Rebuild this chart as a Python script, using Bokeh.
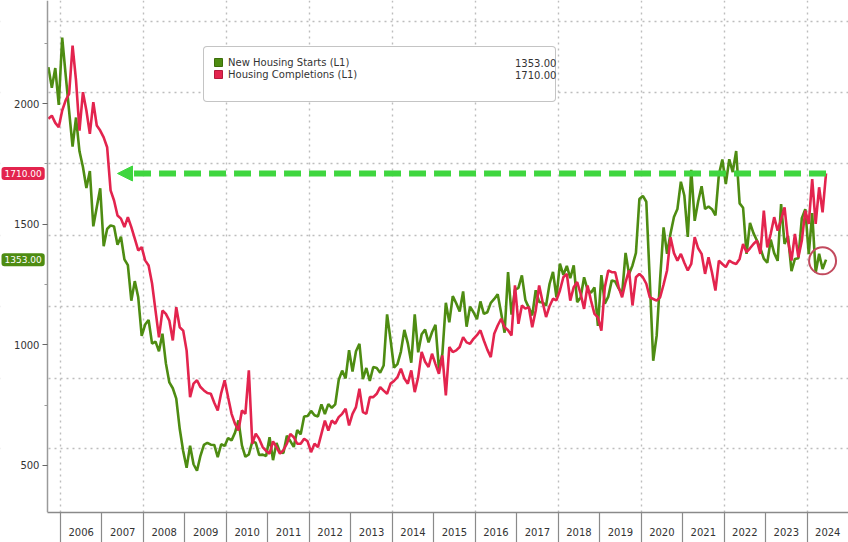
from bokeh.plotting import figure
from bokeh.models import (Range1d, FixedTicker, CustomJSTickFormatter, Grid, Legend,
                          LegendItem, Label, Arrow, NormalHead, BoxAnnotation)
from bokeh.embed import file_html
from bokeh.resources import INLINE

# ---------------- data ----------------
start_year, start_month = 2005, 9   # first monthly observation: Sep 2005

starts = [
    2151, 2065, 2147, 1994,
    2273, 2119, 1969, 1821, 1942, 1802, 1737, 1650, 1720, 1491, 1570, 1649,
    1409, 1480, 1495, 1490, 1415, 1448, 1354, 1330, 1183, 1264, 1197, 1037,
    1084, 1103, 1005, 1013, 973, 1046, 923, 844, 820, 777, 652, 560,
    490, 582, 505, 478, 540, 585, 594, 586, 585, 534, 588, 581,
    614, 604, 636, 687, 583, 536, 546, 599, 594, 543, 545, 539,
    617, 522, 593, 555, 552, 623, 601, 577, 647, 629, 703, 705,
    726, 708, 703, 753, 713, 754, 739, 753, 854, 893, 861, 978,
    889, 973, 1004, 858, 904, 850, 908, 904, 884, 914, 1126, 1021,
    906, 920, 972, 1062, 1006, 926, 1126, 969, 1044, 1063, 1010, 1052,
    1083, 899, 963, 1174, 1093, 1202, 1172, 1138, 1221, 1075, 1158, 1135,
    1106, 1180, 1128, 1135, 1174, 1190, 1210, 1132, 1050, 1301, 1125, 1228,
    1236, 1288, 1186, 1154, 1122, 1226, 1178, 1176, 1163, 1252, 1302, 1197,
    1336, 1290, 1327, 1276, 1329, 1177, 1196, 1280, 1228, 1216, 1238, 1078,
    1289, 1171, 1200, 1267, 1262, 1234, 1211, 1381, 1293, 1329, 1381, 1604,
    1617, 1593, 1269, 934, 1038, 1273, 1487, 1377, 1460, 1530, 1563, 1676,
    1619, 1447, 1725, 1514, 1594, 1657, 1563, 1573, 1562, 1536, 1706, 1768,
    1666, 1769, 1716, 1803, 1586, 1568, 1377, 1505, 1463, 1432, 1401, 1357,
    1340, 1436, 1380, 1348, 1583, 1418, 1451, 1305, 1356, 1359, 1525, 1562,
    1376, 1546, 1299, 1377, 1314, 1353,
]

completions = [
    1937, 1950, 1920, 1902,
    1971, 2013, 2040, 2240, 2096, 1888, 2047, 1971, 1874, 2006, 1909, 1888,
    1860, 1819, 1640, 1598, 1536, 1523, 1488, 1529, 1488, 1440, 1391, 1405,
    1350, 1329, 1254, 1142, 1031, 1142, 1128, 1100, 1018, 1156, 1073, 1059,
    976, 783, 839, 853, 825, 811, 800, 797, 760, 728, 800, 853,
    783, 714, 673, 645, 728, 714, 894, 590, 632, 610, 576, 560,
    549, 600, 576, 549, 563, 590, 631, 617, 590, 590, 611, 600,
    555, 590, 576, 631, 686, 645, 686, 673, 700, 714, 735, 666,
    714, 742, 818, 721, 714, 783, 783, 797, 825, 810, 797, 839,
    850, 866, 901, 860, 839, 894, 804, 866, 970, 930, 908, 963,
    920, 880, 956, 790, 991, 970, 977, 991, 1032, 1010, 1004, 1025,
    1040, 1060, 1018, 980, 949, 1046, 1080, 1108, 1073, 1060, 1039, 1246,
    1087, 1163, 1150, 1156, 1073, 1142, 1246, 1177, 1115, 1160, 1191, 1184,
    1225, 1280, 1294, 1183, 1239, 1260, 1211, 1149, 1246, 1183, 1128, 1114,
    1059, 1239, 1308, 1301, 1301, 1239, 1197, 1260, 1308, 1163, 1280, 1294,
    1280, 1253, 1197, 1190, 1183, 1197, 1250, 1308, 1446, 1380, 1349, 1377,
    1340, 1308, 1335, 1446, 1400, 1377, 1294, 1363, 1300, 1225, 1349, 1335,
    1322, 1349, 1340, 1335, 1356, 1418, 1384, 1400, 1418, 1432, 1377, 1556,
    1404, 1460, 1529, 1473, 1520, 1570, 1432, 1349, 1460, 1363, 1432, 1556,
    1501, 1687, 1501, 1653, 1549, 1710,
]

series_names = ["New Housing Starts (L1)", "Housing Completions (L1)"]
years = list(range(2006, 2025))
y_major = [500, 1000, 1500, 2000]
y_minor = [250, 750, 1250, 1750, 2250]
h_grid = [570, 860, 1160, 1455, 1750, 2045, 2340]
v_grid = list(range(2006, 2025, 2))

# ---------------- styling ----------------
GREEN = "#4e8c12"
GREEN_DARK = "#3b6e0a"
RED = "#e3244e"
RED_DARK = "#b51a3c"
ARROW_GREEN = "#3fd63f"
CIRCLE = "#c24a5e"
FONT = "DejaVu Sans"
TXT = "#333333"
NAN = float("nan")

AXIS_X = 2005.687          # where the value axis sits
X0, X1 = 2004.554, 2025.0  # visible x window (frame spans whole width)
Y0, Y1 = 305, 2427

dates = [start_year + (start_month - 1 + i + 0.5) / 12 for i in range(len(starts))]

p = figure(width=848, height=542,
           x_range=Range1d(X0, X1), y_range=Range1d(Y0, Y1),
           output_backend="svg", toolbar_location=None,
           min_border_left=0, min_border_right=0, min_border_top=0, min_border_bottom=30,
           outline_line_color=None, background_fill_color="white",
           border_fill_color="white")

p.xgrid.visible = False
p.ygrid.visible = False

gx = Grid(dimension=0, ticker=FixedTicker(ticks=v_grid),
          grid_line_color="#bdbdbd", grid_line_dash="2 4", grid_line_width=1.4)
gy = Grid(dimension=1, ticker=FixedTicker(ticks=h_grid),
          grid_line_color="#bdbdbd", grid_line_dash="2 4", grid_line_width=1.4)
p.add_layout(gx)
p.add_layout(gy)
# blank out grid left of the value axis
p.add_layout(BoxAnnotation(right=AXIS_X, fill_color="white", fill_alpha=1.0,
                           line_alpha=0, level="underlay"))

# x axis: year separators as minor ticks, labels centred in each year
xa = p.xaxis[0]
xa.ticker = FixedTicker(ticks=[y + 0.5 for y in years], minor_ticks=years)
xa.formatter = CustomJSTickFormatter(code="return Math.floor(tick).toString();")
xa.bounds = (AXIS_X, X1)
xa.major_tick_out = 0
xa.major_tick_in = 0
xa.minor_tick_out = 30
xa.minor_tick_in = 0
xa.minor_tick_line_color = "#8a8a8a"
xa.minor_tick_line_width = 1.2
xa.axis_line_color = "#8a8a8a"
xa.axis_line_width = 1.5
xa.major_label_standoff = -15
xa.major_label_text_font = FONT
xa.major_label_text_font_size = "10px"
xa.major_label_text_color = TXT

ya = p.yaxis[0]
ya.fixed_location = AXIS_X
ya.ticker = FixedTicker(ticks=y_major, minor_ticks=y_minor)
ya.major_tick_out = 5
ya.major_tick_in = 0
ya.minor_tick_out = 3
ya.minor_tick_in = 0
ya.major_tick_line_color = "#666666"
ya.minor_tick_line_color = "#999999"
ya.axis_line_color = "#9a9a9a"
ya.axis_line_width = 1.5
ya.major_label_standoff = 3
ya.major_label_text_font = FONT
ya.major_label_text_font_size = "10px"
ya.major_label_text_color = TXT

# series
p.line(dates, starts, line_color=GREEN, line_width=2.6)
p.line(dates, completions, line_color=RED, line_width=2.6)

# dashed arrow from the latest completions value back to where it was last reached
last_c = completions[-1]
peak_i = completions.index(max(completions))
cross_i = next(i for i in range(peak_i, len(completions)) if completions[i] < last_c)
p.add_layout(Arrow(end=NormalHead(size=15, fill_color=ARROW_GREEN, line_color=ARROW_GREEN),
                   x_start=dates[-1], y_start=last_c,
                   x_end=dates[cross_i] + 2 / 12, y_end=last_c,
                   line_color=ARROW_GREEN, line_width=6, line_dash="17 8"))

# circle around the latest housing-starts readings
n_last = 3
cx = sum(dates[-n_last:]) / n_last
cy = sum(starts[-n_last:]) / n_last
p.scatter([cx], [cy], marker="circle", size=27, fill_color=None,
          line_color=CIRCLE, line_width=2)

# legend with square swatches
sw_s = p.quad(left=[NAN], right=[NAN], top=[NAN], bottom=[NAN],
              fill_color=GREEN, line_color=GREEN_DARK)
sw_c = p.quad(left=[NAN], right=[NAN], top=[NAN], bottom=[NAN],
              fill_color=RED, line_color=RED_DARK)
sw_b = p.quad(left=[NAN], right=[NAN], top=[NAN], bottom=[NAN],
              fill_alpha=0, line_alpha=0)

common = dict(margin=0, padding=9, spacing=0, label_height=12,
              label_text_font=FONT, label_text_font_size="10px", label_text_color=TXT)

legend = Legend(items=[LegendItem(label=series_names[0], renderers=[sw_s]),
                       LegendItem(label=series_names[1], renderers=[sw_c]),
                       LegendItem(label=" ", renderers=[sw_b])],
                location=(203, 410), glyph_width=10, glyph_height=10,
                label_width=318, label_standoff=5,
                border_line_color="#8a8a8a", border_line_width=1.5,
                background_fill_color="white", background_fill_alpha=1.0,
                **common)
if "border_radius" in Legend.properties():
    legend.border_radius = 4
p.add_layout(legend)

# latest values, right-hand column of the legend box
values_legend = Legend(items=[LegendItem(label=f"{starts[-1]:.2f}", renderers=[sw_b]),
                              LegendItem(label=f"{completions[-1]:.2f}", renderers=[sw_b]),
                              LegendItem(label=" ", renderers=[sw_b])],
                       location=(505, 410), glyph_width=1, glyph_height=10,
                       label_standoff=0, border_line_alpha=0,
                       background_fill_alpha=0, **common)
p.add_layout(values_legend)

# value tags on the left of the value axis
label_props = Label.properties()
for val, col in [(completions[-1], RED), (starts[-1], GREEN)]:
    lb = Label(x=1, x_units="screen", y=val, y_units="data", text=f"{val:.2f}",
               text_align="left", text_baseline="middle", text_font=FONT,
               text_font_size="9px", text_color="white",
               background_fill_color=col, background_fill_alpha=1.0)
    if "padding" in label_props:
        lb.padding = 3
    if "border_radius" in label_props:
        lb.border_radius = 3
    p.add_layout(lb)

open("out.html", "w").write(file_html(p, INLINE))
